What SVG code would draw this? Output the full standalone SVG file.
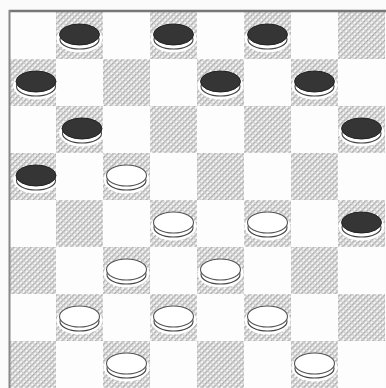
<svg xmlns="http://www.w3.org/2000/svg" width="386" height="388" viewBox="0 0 386 388">
<defs>
<pattern id="hatch" width="4" height="4" patternUnits="userSpaceOnUse" patternTransform="rotate(-45)">
<rect width="4" height="4" fill="#f6f6f6"/>
<rect x="0" y="0" width="4" height="1.5" fill="#a8a8a8"/>
<rect x="0" y="0" width="1.3" height="4" fill="#cdcdcd"/>
</pattern>
<g id="black">
<ellipse cx="0" cy="3" rx="23" ry="14" fill="#fff"/>
<ellipse cx="0" cy="4" rx="19.5" ry="9.5" fill="#fff" stroke="#444" stroke-width="1.1"/>
<ellipse cx="0" cy="-1" rx="20" ry="10.5" fill="#353535" stroke="#222" stroke-width="1"/>
</g>
<g id="white">
<ellipse cx="0" cy="3" rx="23" ry="14" fill="#fff"/>
<ellipse cx="0" cy="4" rx="19.5" ry="9.5" fill="#fff" stroke="#444" stroke-width="1.1"/>
<ellipse cx="0" cy="-1" rx="20" ry="10.5" fill="#fff" stroke="#555" stroke-width="1.1"/>
</g>
</defs>
<style>.d{fill:url(#hatch)}</style>
<rect width="386" height="388" fill="#fbfbfb"/>
<g id="board">
<rect x="9" y="12" width="376" height="376" fill="#fdfdfd"/>
<g class="d">
<rect x="56" y="12" width="47" height="47"/><rect x="150" y="12" width="47" height="47"/><rect x="244" y="12" width="47" height="47"/><rect x="338" y="12" width="47" height="47"/>
<rect x="9" y="59" width="47" height="47"/><rect x="103" y="59" width="47" height="47"/><rect x="197" y="59" width="47" height="47"/><rect x="291" y="59" width="47" height="47"/>
<rect x="56" y="106" width="47" height="47"/><rect x="150" y="106" width="47" height="47"/><rect x="244" y="106" width="47" height="47"/><rect x="338" y="106" width="47" height="47"/>
<rect x="9" y="153" width="47" height="47"/><rect x="103" y="153" width="47" height="47"/><rect x="197" y="153" width="47" height="47"/><rect x="291" y="153" width="47" height="47"/>
<rect x="56" y="200" width="47" height="47"/><rect x="150" y="200" width="47" height="47"/><rect x="244" y="200" width="47" height="47"/><rect x="338" y="200" width="47" height="47"/>
<rect x="9" y="247" width="47" height="47"/><rect x="103" y="247" width="47" height="47"/><rect x="197" y="247" width="47" height="47"/><rect x="291" y="247" width="47" height="47"/>
<rect x="56" y="294" width="47" height="47"/><rect x="150" y="294" width="47" height="47"/><rect x="244" y="294" width="47" height="47"/><rect x="338" y="294" width="47" height="47"/>
<rect x="9" y="341" width="47" height="47"/><rect x="103" y="341" width="47" height="47"/><rect x="197" y="341" width="47" height="47"/><rect x="291" y="341" width="47" height="47"/>
</g>
<line x1="9" y1="11" x2="386" y2="11" stroke="#777" stroke-width="2.5"/>
<line x1="9.5" y1="10" x2="9.5" y2="388" stroke="#888" stroke-width="2"/>
</g>
<g id="pieces">
<use href="#black" x="79.5" y="35.5"/><use href="#black" x="173.5" y="35.5"/><use href="#black" x="267.5" y="35.5"/>
<use href="#black" x="36" y="82.5"/><use href="#black" x="220.5" y="82.5"/><use href="#black" x="314.5" y="82.5"/>
<use href="#black" x="82" y="129.5"/><use href="#black" x="361.5" y="129.5"/>
<use href="#black" x="36" y="176.5"/><use href="#white" x="126.5" y="176.5"/>
<use href="#white" x="173.5" y="223.5"/><use href="#white" x="267.5" y="223.5"/><use href="#black" x="361.5" y="223.5"/>
<use href="#white" x="126.5" y="270.5"/><use href="#white" x="220.5" y="270.5"/>
<use href="#white" x="79.5" y="317.5"/><use href="#white" x="173.5" y="317.5"/><use href="#white" x="267.5" y="317.5"/>
<use href="#white" x="126.5" y="364.5"/><use href="#white" x="314.5" y="364.5"/>
</g>
</svg>
